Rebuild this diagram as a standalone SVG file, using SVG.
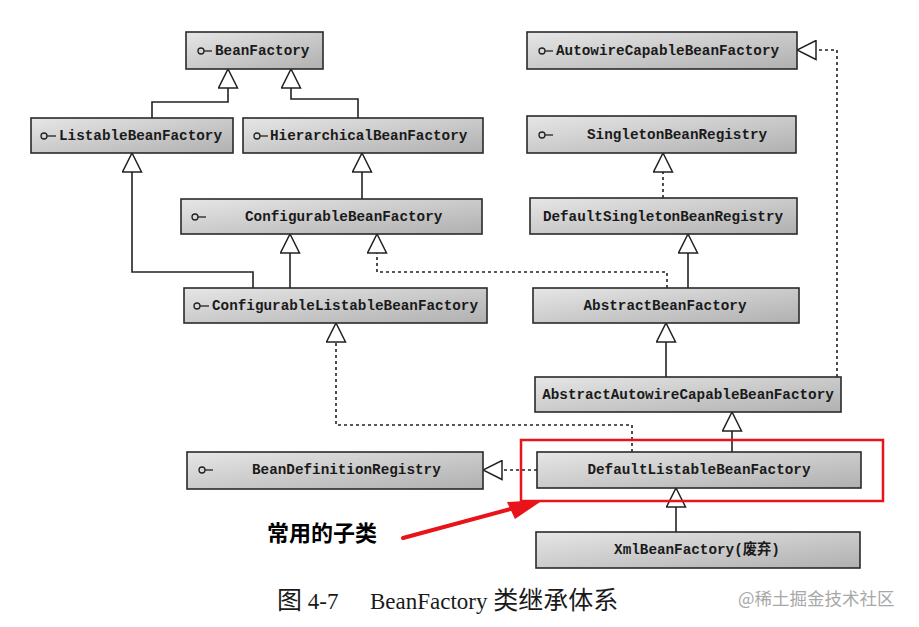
<svg xmlns="http://www.w3.org/2000/svg" width="919" height="627" viewBox="0 0 919 627">
<style>
.box{fill:url(#g);stroke:#2a2a2a;stroke-width:1.6}
.t{font-family:"Liberation Mono","Noto Sans CJK SC",monospace;font-weight:bold;font-size:14.3px;fill:#1a1a1a}
.c{text-anchor:middle}
.ic{fill:none;stroke:#222;stroke-width:1.3}
.ln{fill:none;stroke:#222;stroke-width:1.6;marker-end:url(#tri)}
.d{stroke-dasharray:3,3}
.cap{font-family:"Liberation Serif","Noto Sans CJK SC",serif;font-size:23px;fill:#1a1a1a}
</style>
<defs>
<linearGradient id="g" x1="0" y1="0" x2="1" y2="1">
<stop offset="0" stop-color="#e6e6e6"/>
<stop offset="1" stop-color="#b0b0b0"/>
</linearGradient>
<marker id="tri" viewBox="0 0 21 21" refX="20" refY="10.5" markerWidth="21" markerHeight="21" markerUnits="userSpaceOnUse" orient="auto">
<path d="M1,1 L20,10.5 L1,20 Z" fill="#fff" stroke="#222" stroke-width="1.5" stroke-dasharray="none"/>
</marker>
</defs>
<rect width="919" height="627" fill="#fff"/>

<g id="connectors">
<path class="ln" d="M152,118 V102 H228 V69"/>
<path class="ln" d="M358,118 V99 H291 V69"/>
<path class="ln" d="M362,199 V153"/>
<path class="ln" d="M253,288 V272 H132 V153"/>
<path class="ln" d="M290,288 V234"/>
<path class="ln d" d="M667,288 V272 H377 V234"/>
<path class="ln d" d="M663,198 V153"/>
<path class="ln" d="M688,288 V234"/>
<path class="ln" d="M666,377 V323"/>
<path class="ln d" d="M837,377 V50 H797"/>
<path class="ln" d="M732,452 V412"/>
<path class="ln d" d="M632,452 V425 H336 V323"/>
<path class="ln d" d="M537,470 H483"/>
<path class="ln" d="M676,532 V488"/>
</g>

<g id="BeanFactory">
<rect class="box" x="186" y="32" width="137" height="37"/>
<circle class="ic" cx="201" cy="51" r="3"/><path class="ic" d="M204,51 H212"/>
<text class="t" x="215" y="55">BeanFactory</text>
</g>
<g id="ListableBeanFactory">
<rect class="box" x="31" y="118" width="202" height="35"/>
<circle class="ic" cx="44" cy="136" r="3"/><path class="ic" d="M47,136 H56"/>
<text class="t" x="59" y="140">ListableBeanFactory</text>
</g>
<g id="HierarchicalBeanFactory">
<rect class="box" x="243" y="118" width="240" height="35"/>
<circle class="ic" cx="257" cy="136" r="3"/><path class="ic" d="M260,136 H268"/>
<text class="t" x="270" y="140">HierarchicalBeanFactory</text>
</g>
<g id="AutowireCapableBeanFactory">
<rect class="box" x="527" y="32" width="270" height="37"/>
<circle class="ic" cx="542" cy="51" r="3"/><path class="ic" d="M545,51 H553"/>
<text class="t" x="556" y="55">AutowireCapableBeanFactory</text>
</g>
<g id="SingletonBeanRegistry">
<rect class="box" x="527" y="116" width="269" height="37"/>
<circle class="ic" cx="542" cy="135" r="3"/><path class="ic" d="M545,135 H553"/>
<text class="t" x="587" y="139">SingletonBeanRegistry</text>
</g>
<g id="ConfigurableBeanFactory">
<rect class="box" x="181" y="199" width="301" height="35"/>
<circle class="ic" cx="195" cy="217" r="3"/><path class="ic" d="M198,217 H206"/>
<text class="t" x="245" y="221">ConfigurableBeanFactory</text>
</g>
<g id="ConfigurableListableBeanFactory">
<rect class="box" x="184" y="288" width="303" height="35"/>
<circle class="ic" cx="197" cy="306" r="3"/><path class="ic" d="M200,306 H209"/>
<text class="t" x="212" y="310">ConfigurableListableBeanFactory</text>
</g>
<g id="DefaultSingletonBeanRegistry">
<rect class="box" x="530" y="198" width="267" height="36"/>
<text class="t c" x="663" y="221">DefaultSingletonBeanRegistry</text>
</g>
<g id="AbstractBeanFactory">
<rect class="box" x="533" y="288" width="266" height="35"/>
<text class="t c" x="665" y="310">AbstractBeanFactory</text>
</g>
<g id="AbstractAutowireCapableBeanFactory">
<rect class="box" x="535" y="377" width="306" height="35"/>
<text class="t c" x="688" y="399">AbstractAutowireCapableBeanFactory</text>
</g>
<g id="BeanDefinitionRegistry">
<rect class="box" x="187" y="452" width="296" height="37"/>
<circle class="ic" cx="202" cy="470" r="3"/><path class="ic" d="M205,470 H213"/>
<text class="t" x="252" y="474">BeanDefinitionRegistry</text>
</g>
<g id="DefaultListableBeanFactory">
<rect class="box" x="537" y="452" width="324" height="36"/>
<text class="t c" x="699" y="474">DefaultListableBeanFactory</text>
</g>
<g id="XmlBeanFactory">
<rect class="box" x="536" y="532" width="324" height="36"/>
<text class="t c" x="697" y="554">XmlBeanFactory(废弃)</text>
</g>

<g id="highlight">
<rect x="521" y="440" width="362" height="61" fill="none" stroke="#e8141a" stroke-width="2.5"/>
<path d="M403,538 L518,507" stroke="#e8141a" stroke-width="4" stroke-linecap="round" fill="none"/>
<polygon points="543,500 507,502 515,519" fill="#e8141a"/>
<text x="267" y="541" font-family="'Noto Sans CJK SC',sans-serif" font-weight="bold" font-size="22" fill="#000">常用的子类</text>
</g>

<g id="caption">
<text class="cap" x="277" y="609"><tspan font-size="25">图</tspan> 4-7</text>
<text class="cap" x="370" y="609">BeanFactory <tspan font-size="25">类继承体系</tspan></text>
<text x="738" y="605" font-family="'Noto Sans CJK SC',sans-serif" font-size="17.5" fill="#a8a8a8">@稀土掘金技术社区</text>
</g>
</svg>
